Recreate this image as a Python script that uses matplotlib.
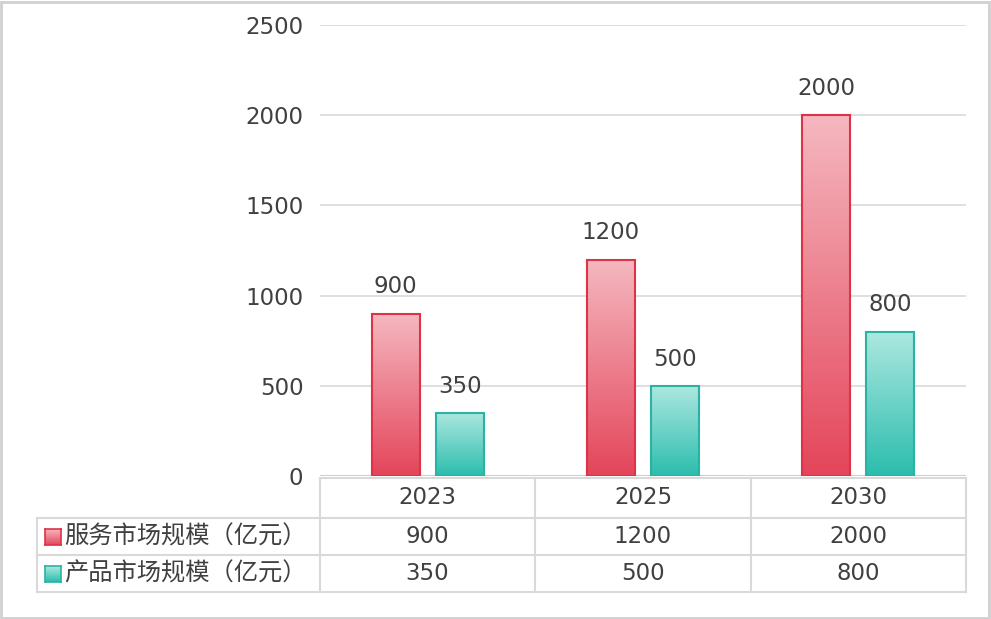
import numpy as np
import matplotlib.pyplot as plt
from matplotlib.patches import Rectangle
from matplotlib.colors import LinearSegmentedColormap
from matplotlib.lines import Line2D

plt.rcParams['font.family'] = ['DejaVu Sans', 'Noto Sans CJK SC']

years = ['2023', '2025', '2030']
service = [900, 1200, 2000]
product = [350, 500, 800]
series_names = ['服务市场规模（亿元）', '产品市场规模（亿元）']
yticks = [0, 500, 1000, 1500, 2000, 2500]

W, H = 991, 619
fig = plt.figure(figsize=(W / 100, H / 100), dpi=100)

def fx(px):
    return px / W

def fy(py):
    return 1 - py / H

# plot area in pixels
left, right, top, bottom = 320, 966, 25, 476
ax = fig.add_axes([fx(left), fy(bottom), fx(right - left), (bottom - top) / H])
ax.set_xlim(-0.5, 2.5)
ax.set_ylim(0, 2500)
for s in ax.spines.values():
    s.set_visible(False)
ax.set_yticks(yticks)
ax.set_yticklabels([str(t) for t in yticks], fontsize=16.5, color='#404040')
ax.tick_params(axis='y', length=0, pad=12)
ax.set_xticks([])
ax.grid(axis='y', color='#d9d9d9', linewidth=1.2)
ax.set_axisbelow(True)
ax.axhline(0, color='#d0d0d0', lw=1.5)

red_cmap = LinearSegmentedColormap.from_list('r', ['#e4455a', '#f5b8c0'])
teal_cmap = LinearSegmentedColormap.from_list('t', ['#2bbdad', '#ade8e0'])
grad = np.linspace(0, 1, 256).reshape(-1, 1)

bw = 0.223
off = 0.149
x = np.arange(len(years))

def gbar(xc, h, cmap, edge):
    rect = Rectangle((xc - bw / 2, 0), bw, h, facecolor='none', edgecolor=edge, lw=1.5, zorder=3)
    ax.add_patch(rect)
    im = ax.imshow(grad, cmap=cmap, aspect='auto', origin='lower',
                   extent=(xc - bw / 2, xc + bw / 2, 0, h), zorder=2)
    im.set_clip_path(rect)
    ax.annotate(str(h), (xc, h), xytext=(0, 11), textcoords='offset points',
                ha='center', va='bottom', fontsize=16.5, color='#404040')

for i in range(len(years)):
    gbar(x[i] - off, service[i], red_cmap, '#de3249')
    gbar(x[i] + off, product[i], teal_cmap, '#2ab3a4')
ax.set_xlim(-0.5, 2.5)
ax.set_ylim(0, 2500)

# data table
lc = '#d9d9d9'
def hline(py, x0, x1):
    fig.add_artist(Line2D([fx(x0), fx(x1)], [fy(py), fy(py)], color=lc, lw=1.5))

def vline(px, y0, y1):
    fig.add_artist(Line2D([fx(px), fx(px)], [fy(y0), fy(y1)], color=lc, lw=1.5))

cols = [320, 535, 751, 966]
rows = [478, 518, 555, 592]
hline(rows[0], cols[0], cols[-1])
for r in rows[1:]:
    hline(r, 37, cols[-1])
for c in cols:
    vline(c, rows[0], rows[-1])
vline(37, rows[1], rows[-1])

for j, yr in enumerate(years):
    cx = (cols[j] + cols[j + 1]) / 2
    fig.text(fx(cx), fy((rows[0] + rows[1]) / 2), yr, ha='center', va='center', fontsize=16.5, color='#404040')
    fig.text(fx(cx), fy((rows[1] + rows[2]) / 2), str(service[j]), ha='center', va='center', fontsize=16.5, color='#404040')
    fig.text(fx(cx), fy((rows[2] + rows[3]) / 2), str(product[j]), ha='center', va='center', fontsize=16.5, color='#404040')

for k, (name, cmap, edge) in enumerate(zip(series_names, [red_cmap, teal_cmap], ['#de3249', '#2ab3a4'])):
    cy = (rows[k + 1] + rows[k + 2]) / 2
    sq = fig.add_axes([fx(45), fy(cy + 8), fx(16), 16 / H])
    sq.imshow(grad, cmap=cmap, aspect='auto', origin='lower', extent=(0, 1, 0, 1))
    sq.set_xticks([])
    sq.set_yticks([])
    for s in sq.spines.values():
        s.set_color(edge)
        s.set_linewidth(1.2)
    fig.text(fx(64), fy(cy), name, ha='left', va='center', fontsize=17.5, color='#404040',
             family=['Noto Sans CJK SC', 'DejaVu Sans'])

# outer border
fig.add_artist(Rectangle((0.001, 0.002), 0.997, 0.995, transform=fig.transFigure,
                         fill=False, edgecolor='#d0d0d0', lw=2))

fig.savefig('out.png', dpi=100)
